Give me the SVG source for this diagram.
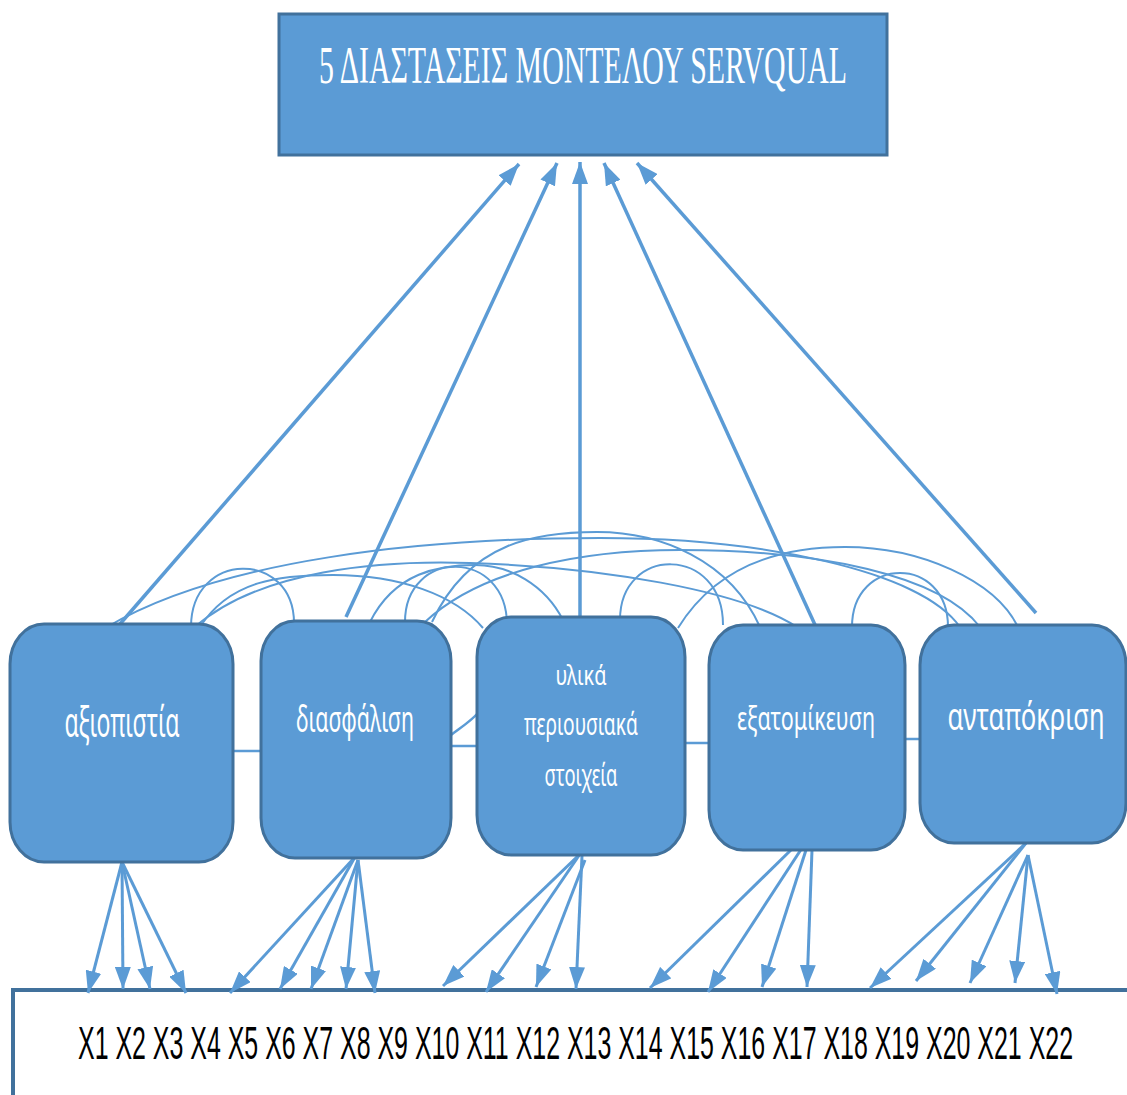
<svg xmlns="http://www.w3.org/2000/svg" width="1127" height="1095" viewBox="0 0 1127 1095">
  <style>
    .box { fill: #5B9BD5; stroke: #41719C; stroke-width: 3; }
    .lbl { fill: #FFFFFF; font-family: "Noto Sans", "Open Sans", "DejaVu Sans", sans-serif; text-anchor: middle; }
    .title { fill: #FFFFFF; font-family: "Liberation Serif", "DejaVu Serif", serif; font-size: 53px; }
    .vars { fill: #000000; font-family: "Liberation Sans", "Noto Sans", sans-serif; font-size: 46px; }
    .arc { fill: none; stroke: #5B9BD5; stroke-width: 2; }
    .link { fill: none; stroke: #5B9BD5; stroke-width: 2.5; }
    .up { stroke: #5B9BD5; stroke-width: 3.5; marker-end: url(#head); }
    .down { stroke: #5B9BD5; stroke-width: 3; marker-end: url(#head); }
  </style>
  <defs>
    <marker id="head" markerUnits="userSpaceOnUse" markerWidth="24" markerHeight="16" refX="22" refY="8" orient="auto">
      <path d="M0,0 L22,8 L0,16 z" fill="#5B9BD5"/>
    </marker>
  </defs>

  <rect width="1127" height="1095" fill="#FFFFFF"/>

  <!-- indicator strip at the bottom -->
  <g id="indicators">
    <path d="M13,1095 L13,990 L1127,990" fill="none" stroke="#41719C" stroke-width="4"/>
    <text class="vars" x="78" y="1059" textLength="995" lengthAdjust="spacingAndGlyphs">X1 X2 X3 X4 X5 X6 X7 X8 X9 X10 X11 X12 X13 X14 X15 X16 X17 X18 X19 X20 X21 X22</text>
  </g>

  <!-- connectors -->
  <g id="connectors">
    <!-- correlation arcs over the dimensions -->
    <path class="arc" d="M191,627 C191,550 294,550 294,623"/>
    <path class="arc" d="M200,627 C230,580 280,575 333,575 C400,575 455,595 483,628"/>
    <path class="arc" d="M195,627 C260,570 380,560 470,563 C600,567 740,590 797,627"/>
    <path class="arc" d="M107,627 C220,560 420,538 600,538 C760,538 920,570 960,627"/>
    <path class="arc" d="M405,622 C405,548 507,548 507,625"/>
    <path class="arc" d="M370,622 C395,572 440,565 475,565 C510,565 545,585 563,620"/>
    <path class="arc" d="M432,622 C470,540 540,532 597,532 C660,532 730,560 760,627"/>
    <path class="arc" d="M425,622 C480,570 580,550 680,550 C820,550 940,575 980,627"/>
    <path class="arc" d="M620,620 C620,545 723,545 723,625"/>
    <path class="arc" d="M678,628 C720,560 790,547 845,547 C920,547 995,580 1018,627"/>
    <path class="arc" d="M852,627 C852,555 948,555 948,627"/>

    <!-- side links between neighbouring dimensions -->
    <path class="link" d="M233,751 L261,751"/>
    <path class="link" d="M451,746 L477,746"/>
    <path class="link" d="M451,735 C460,728 470,722 478,713"/>
    <path class="link" d="M685,743 L709,743"/>
    <path class="link" d="M905,739 L920,739"/>

    <!-- dimensions into the model -->
    <line class="up" x1="120" y1="624" x2="519" y2="164"/>
    <line class="up" x1="346" y1="617" x2="557" y2="163"/>
    <line class="up" x1="580" y1="617" x2="580" y2="162"/>
    <line class="up" x1="816" y1="627" x2="604" y2="163"/>
    <line class="up" x1="1036" y1="613" x2="637" y2="163"/>

    <!-- dimensions down to their items -->
    <line class="down" x1="122" y1="862" x2="88" y2="993"/>
    <line class="down" x1="122" y1="862" x2="123" y2="989"/>
    <line class="down" x1="122" y1="862" x2="150" y2="989"/>
    <line class="down" x1="122" y1="862" x2="186" y2="993"/>

    <line class="down" x1="355" y1="857" x2="230" y2="993"/>
    <line class="down" x1="355" y1="857" x2="280" y2="989"/>
    <line class="down" x1="358" y1="860" x2="311" y2="989"/>
    <line class="down" x1="358" y1="860" x2="346" y2="989"/>
    <line class="down" x1="358" y1="860" x2="375" y2="993"/>

    <line class="down" x1="580" y1="854" x2="443" y2="986"/>
    <line class="down" x1="580" y1="854" x2="486" y2="992"/>
    <line class="down" x1="585" y1="860" x2="536" y2="987"/>
    <line class="down" x1="582" y1="856" x2="576" y2="989"/>

    <line class="down" x1="793" y1="848" x2="650" y2="988"/>
    <line class="down" x1="802" y1="848" x2="708" y2="992"/>
    <line class="down" x1="806" y1="850" x2="762" y2="987"/>
    <line class="down" x1="812" y1="850" x2="807" y2="987"/>

    <line class="down" x1="1026" y1="843" x2="870" y2="988"/>
    <line class="down" x1="1026" y1="843" x2="916" y2="981"/>
    <line class="down" x1="1028" y1="855" x2="970" y2="983"/>
    <line class="down" x1="1028" y1="855" x2="1015" y2="983"/>
    <line class="down" x1="1028" y1="855" x2="1057" y2="994"/>
  </g>

  <!-- model box -->
  <g id="servqual">
    <rect class="box" x="279" y="14" width="608" height="141"/>
    <text class="title" x="319" y="83" textLength="528" lengthAdjust="spacingAndGlyphs">5 ΔΙΑΣΤΑΣΕΙΣ ΜΟΝΤΕΛΟΥ SERVQUAL</text>
  </g>

  <!-- the five dimensions -->
  <g id="reliability">
    <rect class="box" x="10" y="624" width="223" height="238" rx="34" ry="40"/>
    <text class="lbl" x="122" y="737" font-size="42" textLength="115" lengthAdjust="spacingAndGlyphs">αξιοπιστία</text>
  </g>
  <g id="assurance">
    <rect class="box" x="261" y="621" width="190" height="237" rx="34" ry="40"/>
    <text class="lbl" x="355" y="732" font-size="36" textLength="118" lengthAdjust="spacingAndGlyphs">διασφάλιση</text>
  </g>
  <g id="tangibles">
    <rect class="box" x="477" y="617" width="208" height="238" rx="34" ry="40"/>
    <text class="lbl" x="581" y="685" font-size="28" textLength="51" lengthAdjust="spacingAndGlyphs">υλικά</text>
    <text class="lbl" x="581" y="735" font-size="30" textLength="114" lengthAdjust="spacingAndGlyphs">περιουσιακά</text>
    <text class="lbl" x="581" y="786" font-size="30" textLength="73" lengthAdjust="spacingAndGlyphs">στοιχεία</text>
  </g>
  <g id="empathy">
    <rect class="box" x="709" y="625" width="196" height="225" rx="34" ry="40"/>
    <text class="lbl" x="806" y="730" font-size="32" textLength="138" lengthAdjust="spacingAndGlyphs">εξατομίκευση</text>
  </g>
  <g id="responsiveness">
    <rect class="box" x="920" y="625" width="206" height="218" rx="34" ry="40"/>
    <text class="lbl" x="1026" y="730" font-size="38" textLength="157" lengthAdjust="spacingAndGlyphs">ανταπόκριση</text>
  </g>
</svg>
